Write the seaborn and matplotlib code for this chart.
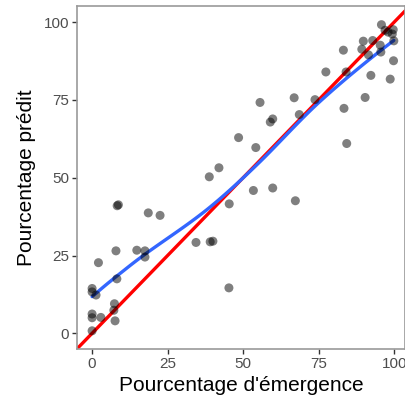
import numpy as np
import pandas as pd
import matplotlib
matplotlib.use("Agg")
import matplotlib.pyplot as plt
import seaborn as sns

# Observed emergence (%) and the model's predicted value (%) for each plot
emergence = [8.3, 8.7, 18.6, 22.5, 7.9, 2.1, 14.8, 17.5, 17.5, 8.2,
             0.0, 0.0, 1.3, 7.4, 7.2, 0.0, 0.0, 2.9, 7.6, 0.0,
             34.4, 39.1, 40.0, 45.3, 42.0, 38.8, 53.4, 59.8, 67.3, 45.4,
             48.5, 54.2, 55.6, 66.9, 73.8, 59.0, 59.8, 68.6, 77.4, 84.1,
             83.4, 84.3, 90.4, 92.3, 98.7, 99.8, 83.2, 89.3, 91.5, 95.4,
             95.6, 89.8, 92.9, 99.9, 95.8, 97.0, 99.7, 99.4, 98.0]
predicted = [41.0, 41.3, 38.7, 37.9, 26.5, 22.7, 26.7, 26.5, 24.5, 17.5,
             14.4, 13.3, 12.3, 9.5, 7.4, 6.2, 5.0, 5.1, 4.0, 0.8,
             29.2, 29.4, 29.6, 14.6, 53.2, 50.3, 45.9, 46.7, 42.6, 41.6,
             62.9, 59.7, 74.2, 75.7, 75.1, 67.9, 68.9, 70.3, 84.0, 84.0,
             72.3, 61.0, 75.8, 82.9, 81.7, 87.6, 91.0, 91.3, 89.5, 92.6,
             90.4, 93.9, 94.1, 94.0, 99.2, 97.4, 97.6, 96.2, 96.8]

x_ticks = [0, 25, 50, 75, 100]
y_ticks = [0, 25, 50, 75, 100]

df = pd.DataFrame({"emergence": emergence, "predicted": predicted})


def local_fit(x, y, x0, q):
    """Tricube-weighted local quadratic fit at x0: value and slope."""
    n = len(x)
    d = np.abs(x - x0)
    h = max(np.sort(d)[q - 1], 1e-9)
    w = np.clip(1 - (d / h) ** 3, 0, None) ** 3
    X = np.column_stack([np.ones(n), x - x0, (x - x0) ** 2])
    W = np.sqrt(w)
    beta, *_ = np.linalg.lstsq(X * W[:, None], y * W, rcond=None)
    return beta[0], beta[1]


def loess(x, y, grid, span=0.75, cell=0.2):
    """Loess with kd-tree vertices and cubic Hermite interpolation."""
    x = np.asarray(x, float)
    y = np.asarray(y, float)
    n = len(x)
    q = int(np.floor(n * span))
    fc = int(np.floor(n * span * cell))
    lo, hi = x.min(), x.max()
    t = 0.005 * (hi - lo)
    verts = {lo - t, hi + t}

    def split(pts, a, b):
        if len(pts) <= fc or pts.min() == pts.max():
            return
        s = np.sort(pts)
        m = (len(s) - 1) // 2
        v = (s[m] + s[m + 1]) / 2
        if v <= a or v >= b:
            return
        verts.add(v)
        split(pts[pts <= v], a, v)
        split(pts[pts > v], v, b)

    split(x, lo - t, hi + t)
    vx = np.array(sorted(verts))
    fits = np.array([local_fit(x, y, v, q) for v in vx])
    vy, vs = fits[:, 0], fits[:, 1]
    out = []
    for g in grid:
        i = min(np.searchsorted(vx, g, side="right") - 1, len(vx) - 2)
        x0, x1 = vx[i], vx[i + 1]
        hh = x1 - x0
        u = (g - x0) / hh
        h00 = 2 * u**3 - 3 * u**2 + 1
        h10 = u**3 - 2 * u**2 + u
        h01 = -2 * u**3 + 3 * u**2
        h11 = u**3 - u**2
        out.append(h00 * vy[i] + h10 * hh * vs[i] + h01 * vy[i + 1] + h11 * hh * vs[i + 1])
    return np.array(out)


grid = np.linspace(df.emergence.min(), df.emergence.max(), 80)
smooth = pd.DataFrame({"emergence": grid,
                       "predicted": loess(df.emergence, df.predicted, grid)})

sns.set_theme(style="white")
plt.rcParams["font.family"] = ["Liberation Sans", "DejaVu Sans"]

fig = plt.figure(figsize=(4.06, 4.04), dpi=100)
ax = fig.add_axes([77 / 406, 1 - 349 / 404, 328 / 406, 343 / 404])

ax.axline((0, 0), slope=1, color="#FF0000", lw=2.4, zorder=2)
sns.lineplot(data=smooth, x="emergence", y="predicted", color="#3366FF",
             lw=2.4, ax=ax, zorder=3)
sns.scatterplot(data=df, x="emergence", y="predicted", color="black",
                alpha=0.5, s=42, edgecolor="none", ax=ax, zorder=4)

ax.set_xlim(-5, 103.6)
ax.set_ylim(-5.05, 105.2)
ax.set_xticks(x_ticks)
ax.set_yticks(y_ticks)
ax.set_xlabel("Pourcentage d'émergence", fontsize=15, color="black", labelpad=4)
ax.set_ylabel("Pourcentage prédit", fontsize=15, color="black", labelpad=6)

for sp in ax.spines.values():
    sp.set_visible(True)
    sp.set_color("#9a9a9a")
    sp.set_linewidth(1.2)
ax.tick_params(axis="both", which="major", direction="out", length=3.5,
               width=1.0, color="#333333", labelcolor="#4D4D4D",
               labelsize=11, pad=2, bottom=True, left=True)
ax.grid(False)

fig.savefig("out.png", dpi=100)
